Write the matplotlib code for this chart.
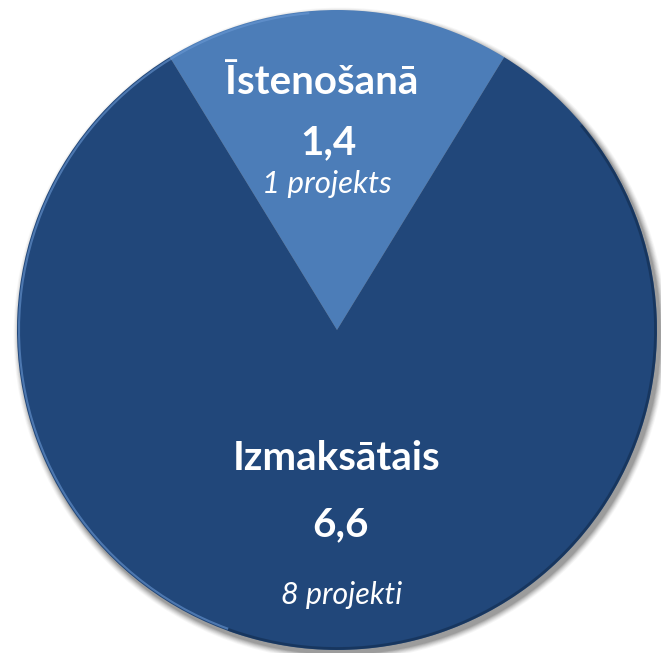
import matplotlib.pyplot as plt
from matplotlib.patches import Circle, Arc

# data
labels = ['Īstenošanā', 'Izmaksātais']
values = [1.4, 6.6]
projects = ['1 projekts', '8 projekti']
colors = ['#4c7db8', '#21477a']

# figure in pixel coordinates
W, H = 661, 653
fig = plt.figure(figsize=(W / 100, H / 100), dpi=100)
ax = fig.add_axes([0, 0, 1, 1])

cx, cy, r = 337, H - 330, 320

# soft shadow behind the pie
for k, a in zip(range(8, 0, -1), [0.03, 0.04, 0.05, 0.06, 0.07, 0.08, 0.1, 0.12]):
    ax.add_patch(Circle((cx + 3, cy - 4), r + k * 0.8, color='#222222', alpha=a, lw=0, zorder=0))

frac = values[0] / sum(values) * 360
wedges, _ = ax.pie(values, colors=colors, startangle=90 - frac / 2, counterclock=True,
                   center=(cx, cy), radius=r, frame=True,
                   wedgeprops=dict(linewidth=0))
ax.set_xlim(0, W)
ax.set_ylim(0, H)
ax.set_aspect('equal')
ax.axis('off')

# light rim on the upper left, darker rim on the lower right
ax.add_patch(Arc((cx, cy), 2 * r - 4, 2 * r - 4, theta1=95, theta2=250,
                 ec='#6a98d4', lw=1.5, alpha=0.6, zorder=3))
ax.add_patch(Arc((cx, cy), 2 * r - 3, 2 * r - 3, theta1=-110, theta2=40,
                 ec='#0f2745', lw=2.0, alpha=0.5, zorder=3))

font = 'Lato'
# small slice labels
ax.text(322, H - 83, labels[0], ha='center', va='center', color='white',
        fontsize=29, fontweight='bold', family=font)
ax.text(328, H - 143, f'{values[0]:.1f}'.replace('.', ','), ha='center', va='center',
        color='white', fontsize=29, fontweight='bold', family=font)
ax.text(327, H - 184, projects[0], ha='center', va='center', color='white',
        fontsize=22.5, style='italic', family=font)

# large slice labels
ax.text(337, H - 458, labels[1], ha='center', va='center', color='white',
        fontsize=29, fontweight='bold', family=font)
ax.text(341, H - 525, f'{values[1]:.1f}'.replace('.', ','), ha='center', va='center',
        color='white', fontsize=29, fontweight='bold', family=font)
ax.text(342, H - 595, projects[1], ha='center', va='center', color='white',
        fontsize=22, style='italic', family=font)

fig.savefig('out.png', dpi=100, facecolor='white')
